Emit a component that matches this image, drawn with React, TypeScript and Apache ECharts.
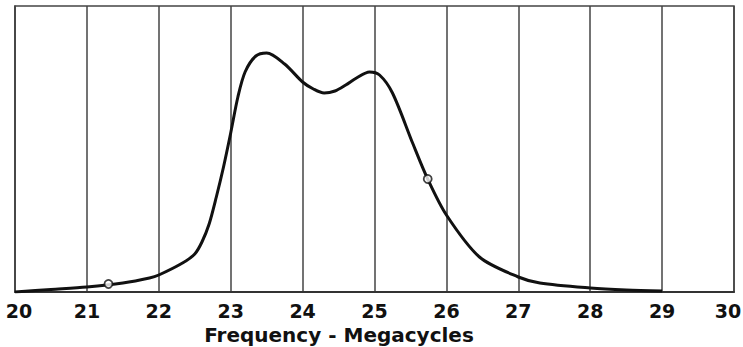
import React, { useEffect, useRef } from "react";
import * as echarts from "echarts";

const frequency = [20.0, 20.5, 21.0, 21.5, 21.87, 22.0, 22.33, 22.5, 22.6, 22.7, 22.8, 22.9, 23.0, 23.1, 23.2, 23.35, 23.5, 23.75, 24.0, 24.15, 24.3, 24.45, 24.6, 24.75, 24.93, 25.07, 25.25, 25.53, 25.74, 26.0, 26.46, 27.0, 27.3, 28.0, 28.5, 29.0];
const response = [0, 2.5, 5, 9, 14, 17, 29, 38, 50, 68, 95, 125, 159, 195, 220, 236, 239, 228, 210, 203, 199, 201, 207, 214, 220, 217, 199, 149, 113, 77, 35, 15, 9, 4, 2, 1];
const markerFreq = [21.3, 25.74];
const markerValue = [8, 113];
const xTicks = [20, 21, 22, 23, 24, 25, 26, 27, 28, 29, 30];
const xTitle = "Frequency - Megacycles";

export default function App() {
  const ref = useRef<HTMLDivElement>(null);
  useEffect(() => {
    if (!ref.current) return;
    const chart = echarts.init(ref.current, null, { renderer: "svg" });
    const font = "DejaVu Sans";
    const first = xTicks[0];
    const last = xTicks[xTicks.length - 1];
    chart.setOption({
      animation: false,
      backgroundColor: "#ffffff",
      grid: {
        left: 15, top: 6, right: 9, bottom: 55,
        outerBoundsMode: "none", containLabel: false,
        show: true, borderColor: "#444", borderWidth: 1.5, backgroundColor: "transparent",
      },
      xAxis: {
        type: "value",
        min: first,
        max: last,
        interval: 1,
        axisLine: { show: true, lineStyle: { color: "#333", width: 2 } },
        axisTick: { show: false },
        axisLabel: {
          color: "#111", fontSize: 19, fontFamily: font, fontWeight: "bold", margin: 9,
          formatter: (v: number) => (v === first ? "{a|" + v + "}" : v === last ? "{b|" + v + "}" : String(v)),
          rich: {
            a: { fontSize: 19, fontFamily: font, fontWeight: "bold", color: "#111", padding: [0, 0, 0, 8] },
            b: { fontSize: 19, fontFamily: font, fontWeight: "bold", color: "#111", padding: [0, 12, 0, 0] },
          },
        },
        splitLine: { show: true, lineStyle: { color: "#444", width: 1.5 } },
      },
      yAxis: {
        type: "value",
        min: 0,
        max: 286,
        axisLine: { show: true, lineStyle: { color: "#444", width: 1.5 } },
        axisTick: { show: false },
        axisLabel: { show: false },
        splitLine: { show: false },
      },
      graphic: [
        {
          type: "text",
          x: 339,
          y: 335,
          style: { text: xTitle, fontSize: 20, fontFamily: font, fontWeight: "bold", fill: "#111", textAlign: "center", textVerticalAlign: "middle" },
        },
      ],
      series: [
        {
          type: "line",
          data: frequency.map((f, i) => [f, response[i]]),
          smooth: 0.3,
          showSymbol: false,
          lineStyle: { color: "#111", width: 3 },
          z: 3,
        },
        {
          type: "scatter",
          data: markerFreq.map((f, i) => [f, markerValue[i]]),
          symbol: "circle",
          symbolSize: 8,
          itemStyle: { color: "#fff", borderColor: "#111", borderWidth: 1.8 },
          z: 4,
        },
      ],
    });
    return () => chart.dispose();
  }, []);
  return <div ref={ref} style={{ position: "fixed", left: 0, top: 0, width: 743, height: 347 }} />;
}
